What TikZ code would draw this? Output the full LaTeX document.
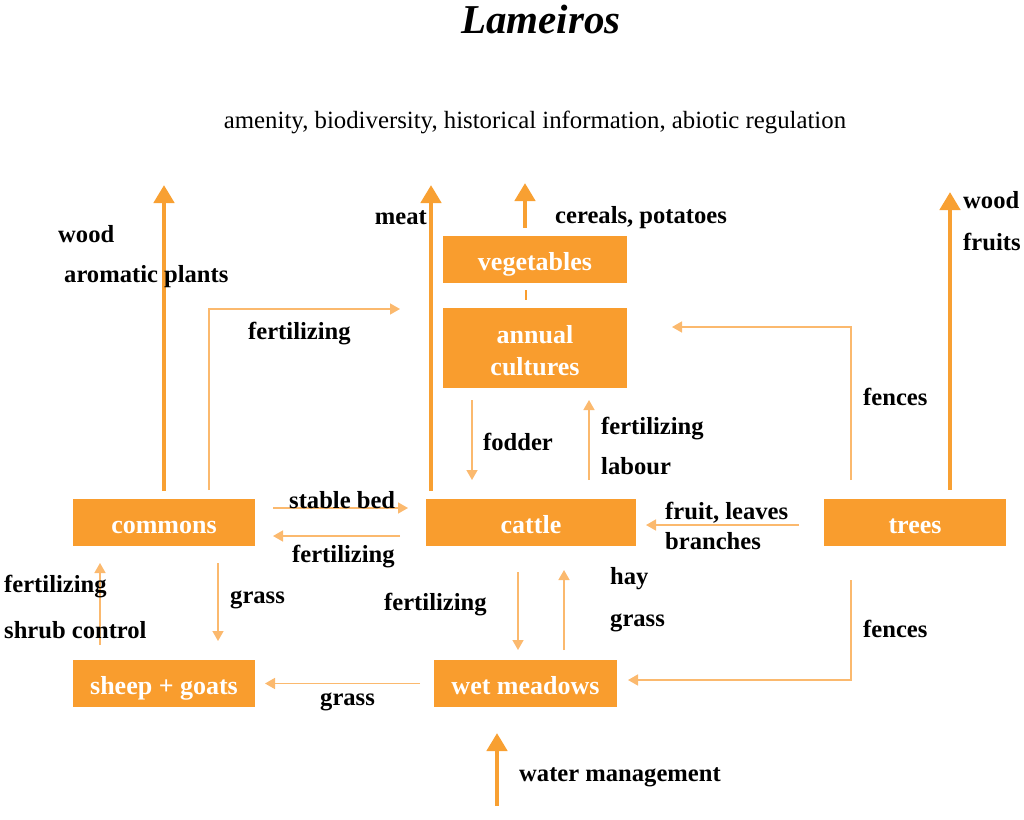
\documentclass[tikz,border=0pt]{standalone}
\usepackage{fontspec}
\setmainfont{Liberation Serif}
\usetikzlibrary{arrows.meta,calc}
\definecolor{boxor}{RGB}{249,157,46}
\definecolor{bigor}{RGB}{248,160,50}
\definecolor{thinor}{RGB}{251,185,110}
\tikzset{
  box/.style={fill=boxor, draw=none, text=white, font=\fontsize{26}{30}\selectfont\bfseries, inner sep=0pt, outer sep=0pt, align=center, minimum height=47pt, text height=24pt, text depth=2pt},
  lbl/.style={font=\fontsize{24.6}{27}\selectfont\bfseries, inner sep=0pt, anchor=west, text=black, yshift=-2pt},
  big/.style={draw=bigor, line width=4.5pt, -{Triangle[length=18pt,width=20pt]}},
  thinarr/.style={draw=thinor, line width=1.5pt, -{Triangle[length=10pt,width=11pt]}},
}
\begin{document}
\begin{tikzpicture}[x=1pt,y=-1pt]
\useasboundingbox (0,0) rectangle (1024,819);
% title
\node[font=\fontsize{41}{44}\selectfont\bfseries\itshape, inner sep=0pt] (title) at (541,19) {Lameiros};
\node[font=\fontsize{24.8}{28}\selectfont, inner sep=0pt] (services) at (535,122) {amenity, biodiversity, historical information, abiotic regulation};
% boxes
\node[box, minimum width=184pt] (veg) at (535,259.5) {vegetables};
\node[box, minimum width=184pt, minimum height=80pt, font=\fontsize{26}{32}\selectfont\bfseries, text height=56pt, text depth=2pt] (annual) at (535,348) {annual\\cultures};
\node[box, minimum width=182pt] (commons) at (164,522.5) {commons};
\node[box, minimum width=210pt] (cattle) at (531,522.5) {cattle};
\node[box, minimum width=182pt] (trees) at (915,522.5) {trees};
\node[box, minimum width=182pt] (sheep) at (164,683.5) {sheep + goats};
\node[box, minimum width=183pt] (wet) at (525.5,683.5) {wet meadows};
% free ends
\coordinate (woodTop) at (164,185);
\coordinate (meatTop) at (431,185);
\coordinate (vegTop) at (525,183);
\coordinate (treeTop) at (950,192);
\coordinate (waterBot) at (497,806);
\coordinate (c1) at (209,309);
\coordinate (c2) at (851,327);
\coordinate (c3) at (851,680);
% thick arrows
\draw[big, shorten <=8pt] (woodTop |- commons.north) -- (woodTop);
\draw[big, shorten <=8pt] (meatTop |- cattle.north) -- (meatTop);
\draw[big, shorten <=8pt] (vegTop |- veg.north) -- (vegTop);
\draw[big, shorten <=9pt] (treeTop |- trees.north) -- (treeTop);
\draw[big, shorten >=26pt] (waterBot) -- (waterBot |- wet.south);
\draw[draw=boxor, line width=2.5pt, shorten <=7pt, shorten >=8pt] ($(veg.south)+(-9,0)$) -- ($(annual.north)+(-9,0)$);
% thin arrows
\draw[thinarr, shorten <=9pt, shorten >=43pt] (c1 |- commons.north) -- (c1) -- (annual.west |- c1);
\draw[thinarr, shorten <=19pt, shorten >=45pt] (c2 |- trees.north) -- (c2) -- (annual.east |- c2);
\draw[thinarr, shorten <=12pt, shorten >=19pt] (472,0 |- annual.south) -- (472,0 |- cattle.north);
\draw[thinarr, shorten <=19pt, shorten >=12pt] (589,0 |- cattle.north) -- (589,0 |- annual.south);
\draw[thinarr, shorten <=18pt, shorten >=18pt] ([yshift=14.5pt]commons.east) -- ([yshift=14.5pt]cattle.west);
\draw[thinarr, shorten <=26pt, shorten >=18pt] ([yshift=-13.5pt]cattle.west) -- ([yshift=-13.5pt]commons.east);
\draw[thinarr, shorten <=25pt, shorten >=10pt] ([yshift=-2.5pt]trees.west) -- ([yshift=-2.5pt]cattle.east);
\draw[thinarr, shorten <=26pt, shorten >=10pt] (518,0 |- cattle.south) -- (518,0 |- wet.north);
\draw[thinarr, shorten <=10pt, shorten >=24pt] (564,0 |- wet.north) -- (564,0 |- cattle.south);
\draw[thinarr, shorten <=17pt, shorten >=19pt] (218,0 |- commons.south) -- (218,0 |- sheep.north);
\draw[thinarr, shorten <=15pt, shorten >=17pt] (100,0 |- sheep.north) -- (100,0 |- commons.south);
\draw[thinarr, shorten <=14pt, shorten >=10pt] (wet.west) -- (sheep.east);
\draw[thinarr, shorten <=34pt, shorten >=11pt] (c3 |- trees.south) -- (c3) -- (wet.east |- c3);
% labels
\node[lbl] (l1) at (58,232) {wood};
\node[lbl] (l2) at (64,275) {aromatic plants};
\node[lbl, anchor=east] (l3) at (427,216) {meat};
\node[lbl] (l4) at (555,216) {cereals, potatoes};
\node[lbl] (l5) at (963,198) {wood};
\node[lbl] (l6) at (963,240) {fruits};
\node[lbl] (l7) at (248,332) {fertilizing};
\node[lbl] (l8) at (863,395) {fences};
\node[lbl] (l9) at (483,440) {fodder};
\node[lbl] (l10) at (601,427) {fertilizing};
\node[lbl] (l11) at (601,464) {labour};
\node[lbl] (l12) at (289,498) {stable bed};
\node[lbl] (l13) at (292,555) {fertilizing};
\node[lbl] (l14) at (665,511) {fruit, leaves};
\node[lbl] (l15) at (665,539) {branches};
\node[lbl] (l16) at (4,585) {fertilizing};
\node[lbl] (l17) at (4,628) {shrub control};
\node[lbl] (l18) at (230,598) {grass};
\node[lbl] (l19) at (384,603) {fertilizing};
\node[lbl] (l20) at (610,577) {hay};
\node[lbl] (l21) at (610,621) {grass};
\node[lbl] (l22) at (863,627) {fences};
\node[lbl] (l23) at (320,700) {grass};
\node[lbl] (l24) at (519,775) {water management};
\end{tikzpicture}
\end{document}
